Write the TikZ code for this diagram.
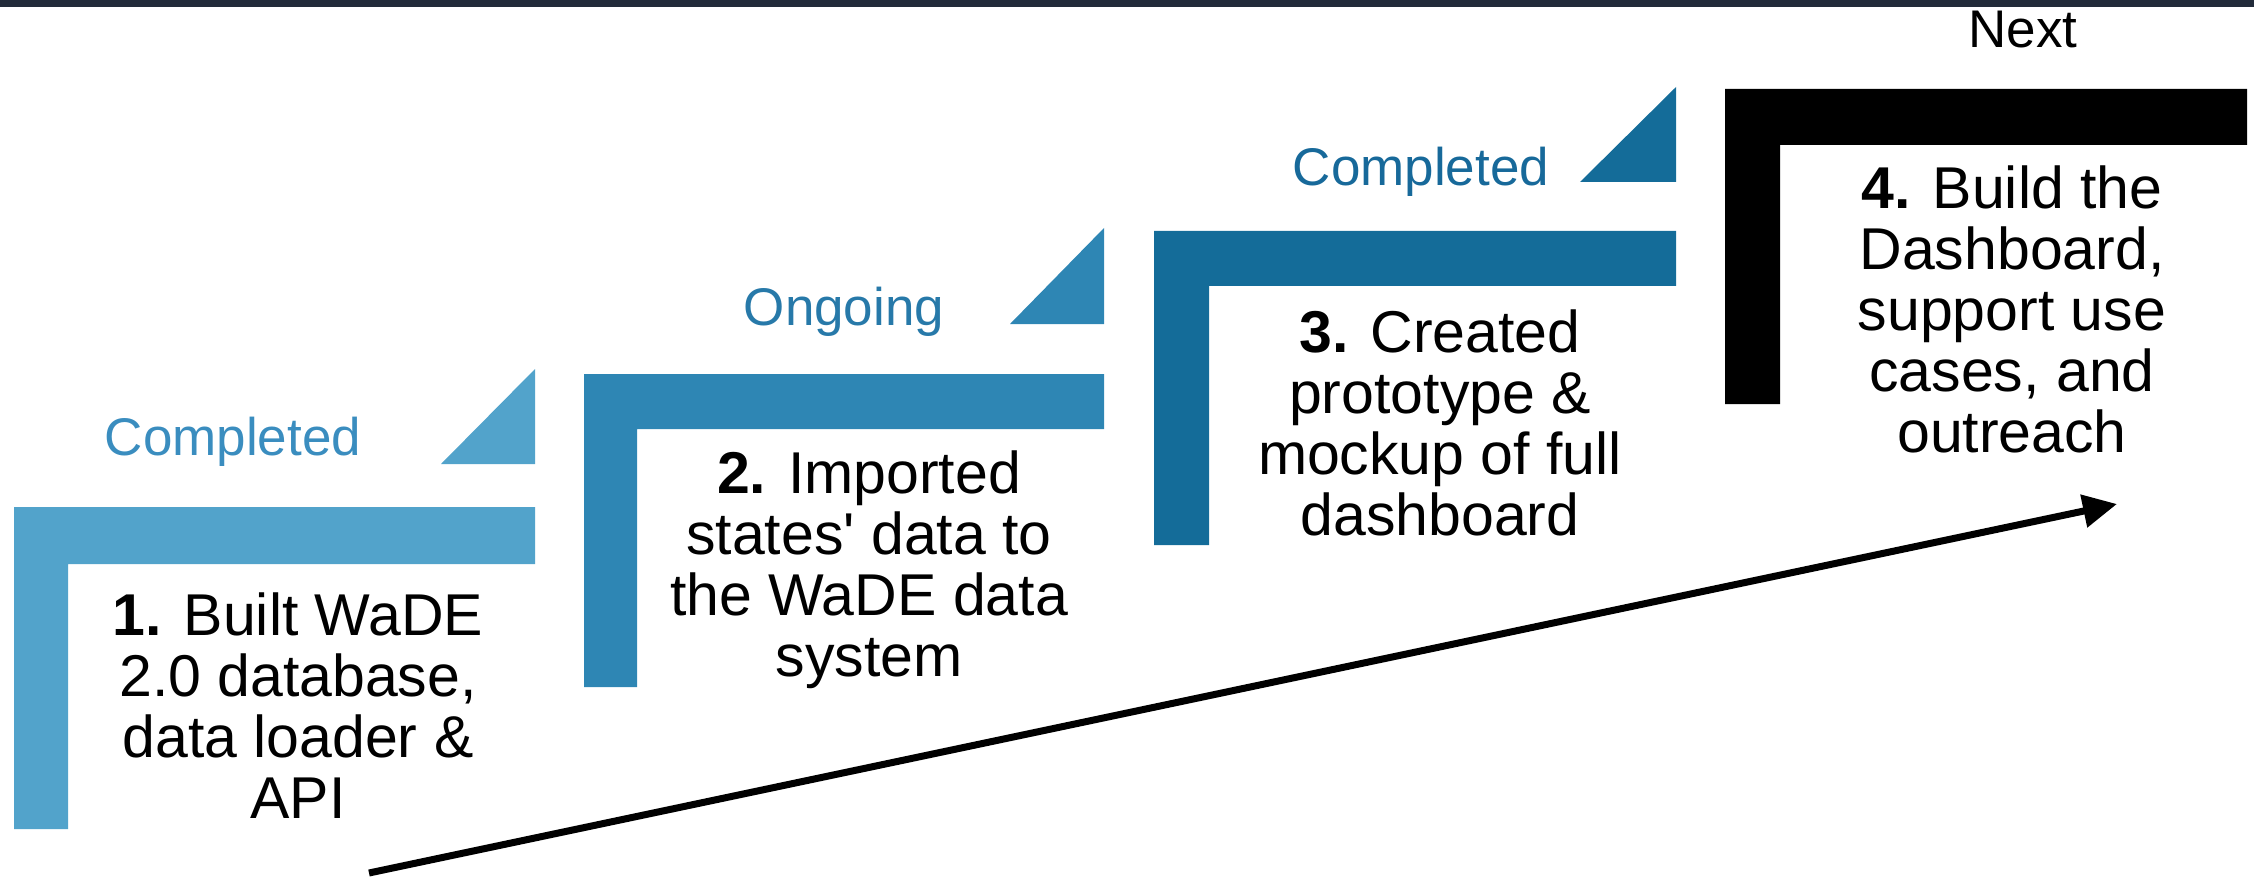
\documentclass[tikz,border=0pt]{standalone}
\usepackage{fontspec}
\setmainfont{Liberation Sans}
\usetikzlibrary{arrows.meta}
\definecolor{band}{HTML}{222B3A}
\definecolor{cone}{HTML}{52A3CB}
\definecolor{ctwo}{HTML}{2E86B4}
\definecolor{cthree}{HTML}{146C99}
\definecolor{lone}{HTML}{3A8DBF}
\definecolor{ltwo}{HTML}{2779A9}
\definecolor{lthree}{HTML}{17699A}
\begin{document}
\begin{tikzpicture}[x=1pt,y=-1pt,
  bodytext/.style={anchor=north,align=center,inner sep=0pt,font=\fontsize{59}{61}\selectfont},
  labeltext/.style={anchor=base,inner sep=0pt,font=\fontsize{53}{55}\selectfont},
  arrowline/.style={line width=7pt,-{Triangle[length=34pt,width=32pt]}}]
\useasboundingbox (0,0) rectangle (2254,893);
\fill[band] (0,0) rectangle (2254,7);
% step 1
\fill[cone] (14,507) -- (535,507) -- (535,564) -- (68,564) -- (68,829) -- (14,829) -- cycle;
\fill[cone] (441,464) -- (535,464) -- (535,369) -- cycle;
\node[labeltext,text=lone] (lab1) at (233,455) {Completed};
\node[bodytext] (txt1) at (298,593) {\textbf{1.} Built WaDE\\2.0 database,\\data loader \&\\API};
% step 2
\fill[ctwo] (584,374) -- (1104,374) -- (1104,429) -- (637,429) -- (637,687) -- (584,687) -- cycle;
\fill[ctwo] (1010,324) -- (1104,324) -- (1104,228) -- cycle;
\node[labeltext,text=ltwo] (lab2) at (844,326) {Ongoing};
\node[bodytext] (txt2) at (869,451) {\textbf{2.} Imported\\states\textquotesingle{} data to\\the WaDE data\\system};
% step 3
\fill[cthree] (1154,231) -- (1676,231) -- (1676,286) -- (1209,286) -- (1209,545) -- (1154,545) -- cycle;
\fill[cthree] (1580,182) -- (1676,182) -- (1676,87) -- cycle;
\node[labeltext,text=lthree] (lab3) at (1421,186) {Completed};
\node[bodytext] (txt3) at (1440,310) {\textbf{3.} Created\\prototype \&\\mockup of full\\dashboard};
% step 4
\fill[black] (1725,89) -- (2247,89) -- (2247,145) -- (1780,145) -- (1780,404) -- (1725,404) -- cycle;
\node[labeltext] (lab4) at (2023,48) {Next};
\node[bodytext] (txt4) at (2012,166) {\textbf{4.} Build the\\Dashboard,\\support use\\cases, and\\outreach};
% arrow
\coordinate (astart) at (369,873);
\coordinate (aend) at (2117,504);
\draw[arrowline] (astart) -- (aend);
\end{tikzpicture}
\end{document}
